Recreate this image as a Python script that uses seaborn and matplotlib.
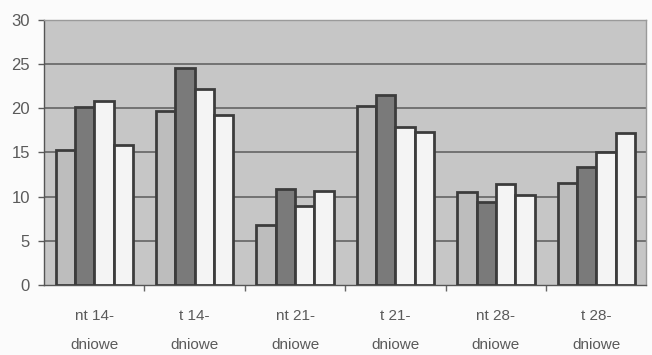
import matplotlib
matplotlib.use("Agg")
import matplotlib.pyplot as plt
import seaborn as sns
import pandas as pd

categories = ["nt 14-\ndniowe", "t 14-\ndniowe", "nt 21-\ndniowe",
              "t 21-\ndniowe", "nt 28-\ndniowe", "t 28-\ndniowe"]
series_names = ["seria 1", "seria 2", "seria 3", "seria 4"]
seria_1 = [15.3, 19.7, 6.8, 20.3, 10.5, 11.6]
seria_2 = [20.1, 24.5, 10.9, 21.5, 9.4, 13.4]
seria_3 = [20.8, 22.2, 8.9, 17.9, 11.4, 15.1]
seria_4 = [15.9, 19.2, 10.6, 17.3, 10.2, 17.2]
y_ticks = [0, 5, 10, 15, 20, 25, 30]

rows = []
for name, vals in zip(series_names, [seria_1, seria_2, seria_3, seria_4]):
    for cat, v in zip(categories, vals):
        rows.append({"kategoria": cat, "seria": name, "wartosc": v})
df = pd.DataFrame(rows)

sns.set_theme(style="white")
plt.rcParams["font.family"] = ["Liberation Sans", "DejaVu Sans"]

fig = plt.figure(figsize=(6.52, 3.55), dpi=100)
ax = fig.add_axes([0.0675, 0.197, 0.924, 0.747])

palette = ["#bdbdbd", "#7a7a7a", "#f4f4f4", "#f4f4f4"]
sns.barplot(data=df, x="kategoria", y="wartosc", hue="seria", hue_order=series_names,
            palette=palette, width=0.77, edgecolor="#3c3c3c", linewidth=2.0,
            saturation=1, ax=ax, legend=False, zorder=3)

ax.set_facecolor("#c6c6c6")
fig.patch.set_facecolor("#fbfbfb")
ax.set_ylim(0, 30)
ax.set_xlim(-0.5, len(categories) - 0.5)
ax.set_yticks(y_ticks)
for y in y_ticks[1:-1]:
    ax.axhline(y, color="#646464", linewidth=1.2, zorder=1)

ax.set_xlabel("")
ax.set_ylabel("")
ax.tick_params(axis="y", labelsize=12, colors="#5a5a5a", length=4, width=1, left=True, pad=6)
ax.tick_params(axis="x", labelsize=11, colors="#5a5a5a", length=0, pad=17)
for lbl in ax.get_xticklabels():
    lbl.set_linespacing(2.35)
ax.set_xticks(range(len(categories)))
ax.set_xticks([i + 0.5 for i in range(len(categories) - 1)], minor=True)
ax.tick_params(axis="x", which="minor", length=4, width=1, color="#666666", bottom=True)

for side, spine in ax.spines.items():
    spine.set_visible(True)
    spine.set_linewidth(1.0)
    spine.set_color("#9a9a9a" if side in ("top", "right") else "#555555")

fig.savefig("out.png", dpi=100, facecolor=fig.get_facecolor())
